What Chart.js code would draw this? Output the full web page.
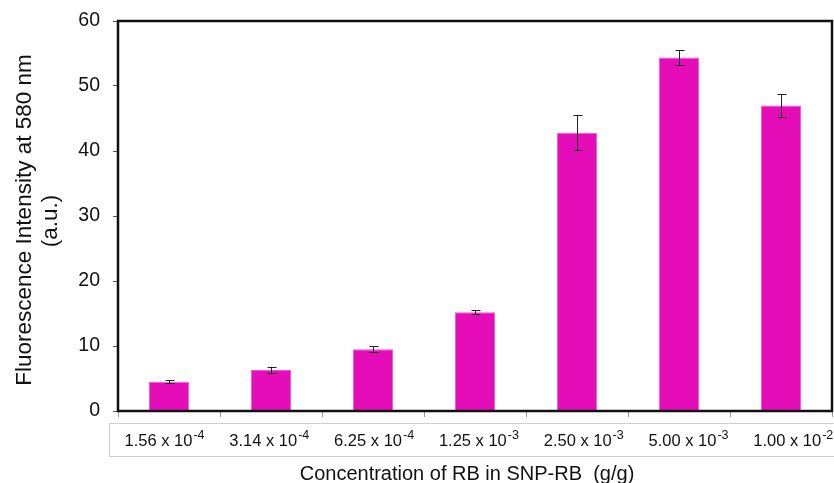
<!DOCTYPE html>
<html>
<head>
<meta charset="utf-8">
<script src="https://cdn.jsdelivr.net/npm/chart.js@4.4.0/dist/chart.umd.min.js"></script>
<style>
html,body{margin:0;padding:0;background:#fff;}
#wrap{width:834px;height:483px;position:relative;}
</style>
</head>
<body>
<div id="wrap"><canvas id="c" width="834" height="483"></canvas></div>
<script>
const mantissas = ['1.56','3.14','6.25','1.25','2.50','5.00','1.00'];
const exponents = ['-4','-4','-4','-3','-3','-3','-2'];
const categories = mantissas.map((m,i)=>m+' x 10^'+exponents[i]);
const values = [4.5, 6.3, 9.5, 15.2, 42.8, 54.4, 47.0];
const errors = [0.25, 0.5, 0.45, 0.35, 2.7, 1.15, 1.7];
const yTicks = [0,10,20,30,40,50,60];
const xTitle = 'Concentration of RB in SNP-RB  (g/g)';
const yTitle = ['Fluorescence Intensity at 580 nm','(a.u.)'];

const FONT = '"Liberation Sans", Arial, sans-serif';

const custom = {
  id:'custom',
  afterDatasetsDraw(chart){
    const ctx = chart.ctx, a = chart.chartArea;
    const y = chart.scales.y;
    const meta = chart.getDatasetMeta(0);
    ctx.save();
    ctx.strokeStyle = '#222';
    ctx.lineWidth = 1;
    meta.data.forEach((bar,i)=>{
      const x = Math.round(bar.x)+0.5;
      const t = y.getPixelForValue(values[i]+errors[i]);
      const b = y.getPixelForValue(values[i]-errors[i]);
      ctx.beginPath();
      ctx.moveTo(x,t); ctx.lineTo(x,b);
      ctx.moveTo(x-4,Math.round(t)+0.5); ctx.lineTo(x+5,Math.round(t)+0.5);
      ctx.moveTo(x-4,Math.round(b)+0.5); ctx.lineTo(x+5,Math.round(b)+0.5);
      ctx.stroke();
    });
    ctx.strokeStyle = '#111';
    ctx.lineWidth = 2.5;
    ctx.strokeRect(a.left, a.top, a.right-a.left, a.bottom-a.top);
    ctx.restore();
  },
  afterDraw(chart){
    const ctx = chart.ctx;
    ctx.save();
    ctx.strokeStyle = '#cfcfcf';
    ctx.lineWidth = 1;
    ctx.strokeRect(109.5, 423.5, 740, 33);
    ctx.fillStyle = '#111';
    ctx.textBaseline = 'alphabetic';
    mantissas.forEach((m,i)=>{
      const base = m + ' x 10';
      const sup = exponents[i];
      ctx.font = '16.5px ' + FONT;
      const w1 = ctx.measureText(base).width;
      ctx.font = '12.5px ' + FONT;
      const w2 = ctx.measureText(sup).width + 1;
      const cx = 164.5 + i*104.8;
      const x0 = cx - (w1+w2)/2;
      ctx.font = '16.5px ' + FONT;
      ctx.textAlign = 'left';
      ctx.fillText(base, x0, 446);
      ctx.font = '12.5px ' + FONT;
      ctx.fillText(sup, x0 + w1 + 1, 439);
    });
    ctx.font = '20px ' + FONT;
    ctx.textAlign = 'center';
    ctx.fillStyle = '#111';
    ctx.fillText(xTitle, 467, 480);
    ctx.font = '22.5px ' + FONT;
    ctx.save();
    ctx.translate(31, 220);
    ctx.rotate(-Math.PI/2);
    ctx.fillText(yTitle[0], 0, 0);
    ctx.restore();
    ctx.save();
    ctx.translate(57, 221);
    ctx.rotate(-Math.PI/2);
    ctx.fillText(yTitle[1], 0, 0);
    ctx.restore();
    ctx.restore();
  }
};

new Chart(document.getElementById('c'), {
  type:'bar',
  data:{
    labels: categories,
    datasets:[{
      data: values,
      backgroundColor:'#E50DB8',
      borderColor:'#F055CC',
      borderWidth:1,
      barPercentage:1,
      categoryPercentage:0.395
    }]
  },
  options:{
    responsive:false,
    animation:false,
    events:[],
    layout:{padding:{top:21,right:2,left:0,bottom:0}},
    plugins:{legend:{display:false},tooltip:{enabled:false},title:{display:false}},
    scales:{
      x:{
        offset:true,
        grid:{offset:true,drawOnChartArea:false,drawTicks:true,tickLength:6,color:'#999',lineWidth:1},
        border:{display:false},
        ticks:{display:false},
        afterFit(s){ s.height = 72; s.paddingLeft = 0; s.paddingRight = 0; }
      },
      y:{
        min:0,max:60,
        afterBuildTicks(s){ s.ticks = yTicks.map(v=>({value:v})); },
        grid:{drawOnChartArea:false,drawTicks:true,tickLength:5,color:'#555'},
        border:{display:false},
        ticks:{font:{family:FONT,size:19.5},color:'#111',padding:13},
        afterFit(s){ s.width = 118; s.paddingTop = 0; s.paddingBottom = 0; }
      }
    }
  },
  plugins:[custom]
});
</script>
</body>
</html>
